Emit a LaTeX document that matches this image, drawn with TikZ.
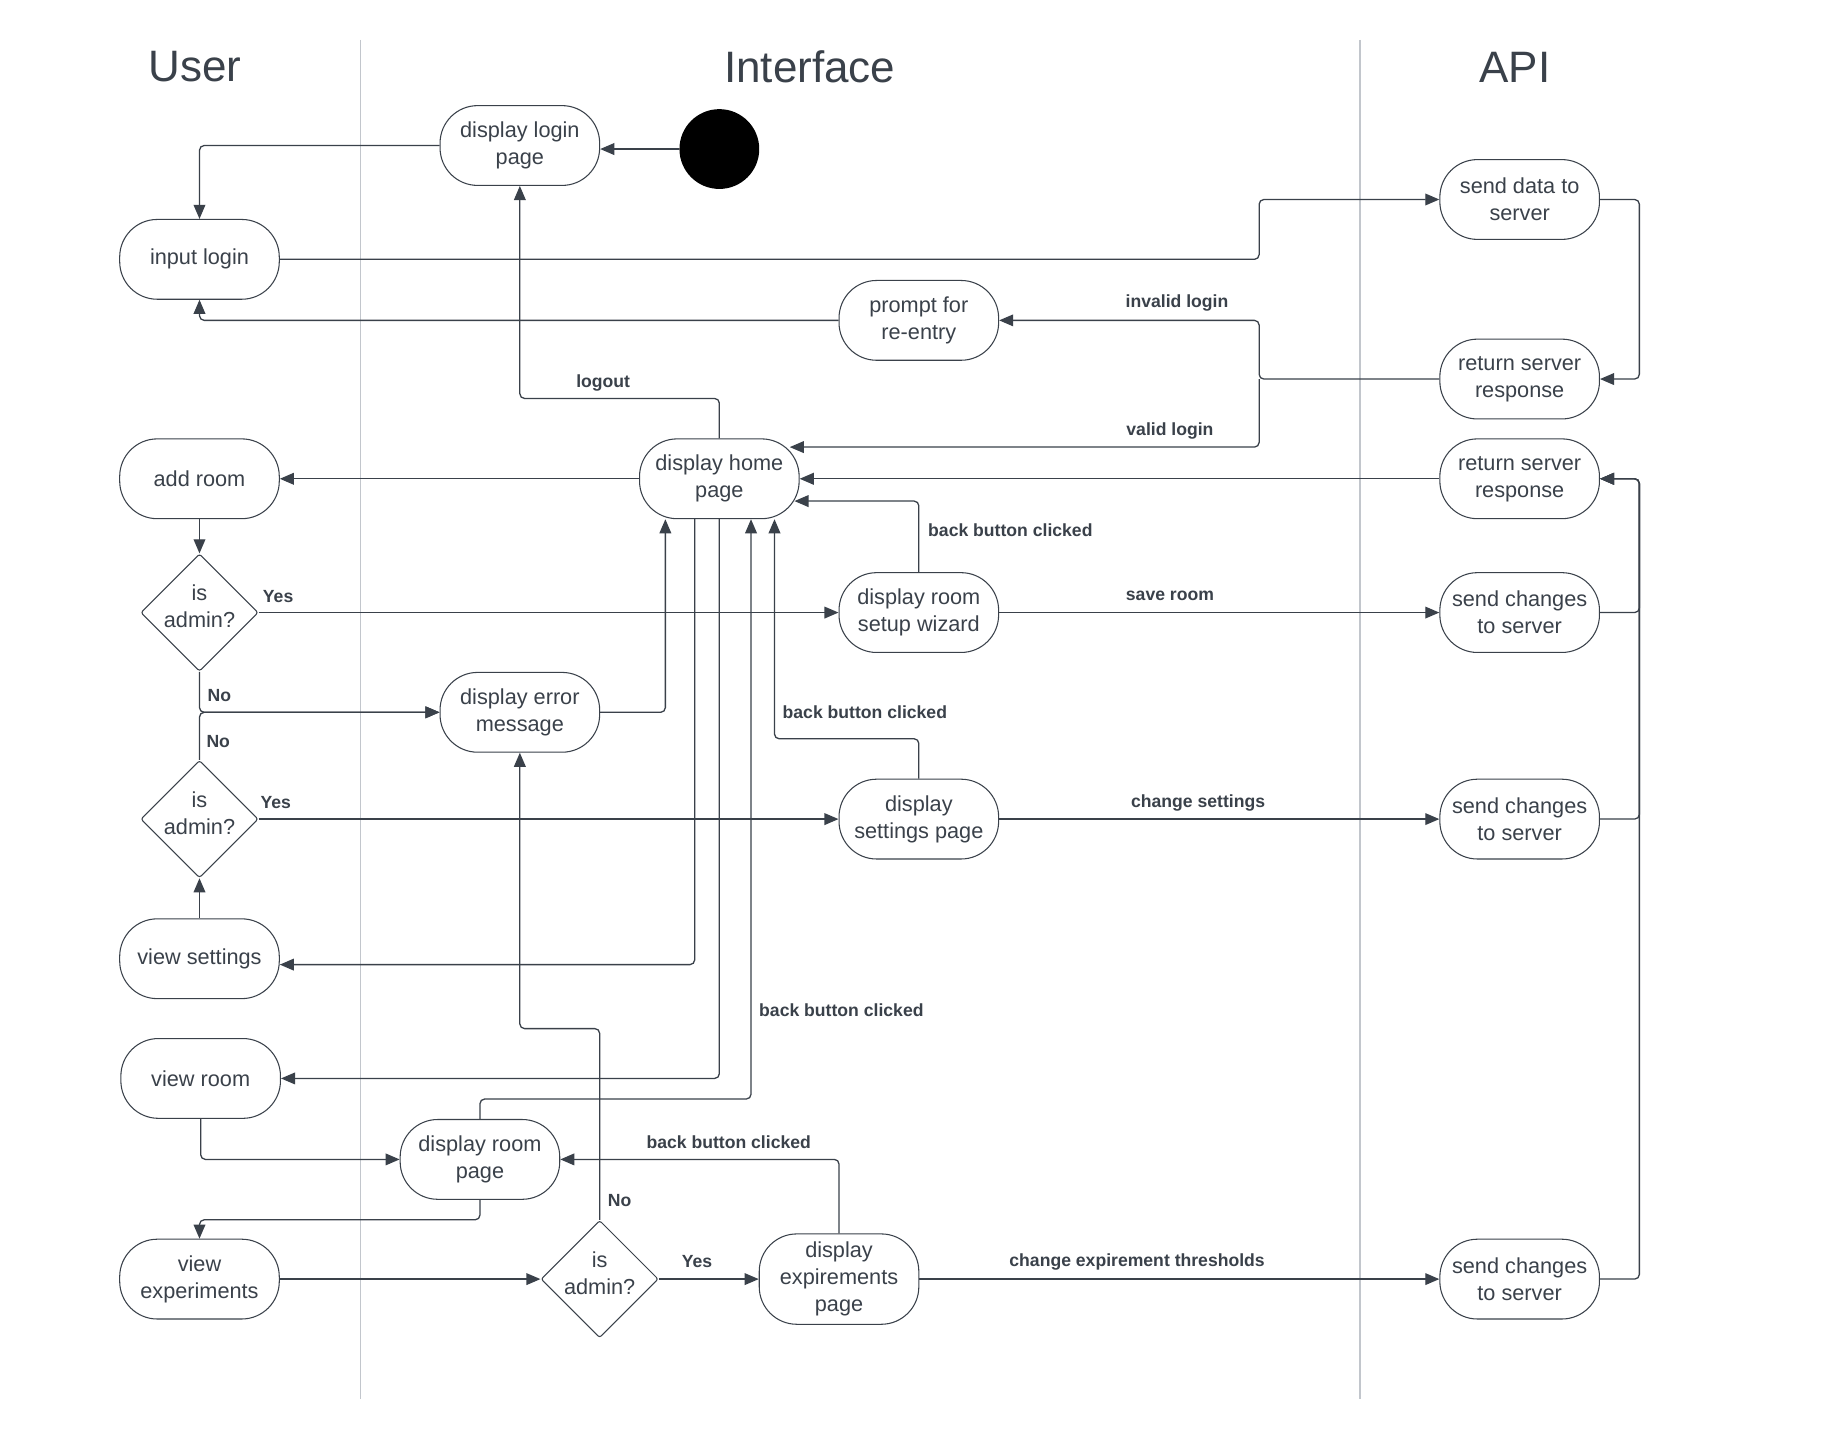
\documentclass[tikz,border=0pt]{standalone}
\usepackage{fontspec}
\setmainfont{Liberation Sans}
\usetikzlibrary{arrows.meta,shapes.geometric,calc}
\definecolor{ink}{HTML}{3A414A}
\definecolor{lanec}{HTML}{C2C6CC}
\begin{document}
\begin{tikzpicture}[x=1pt,y=-1pt,
  act/.style={draw=ink, line width=0.9pt, rounded corners=32pt, minimum width=136pt, minimum height=68pt, inner sep=0pt, align=center, font=\fontsize{18.5}{23}\selectfont, text=ink},
  dec/.style={draw=ink, line width=0.9pt, diamond, minimum width=100pt, minimum height=100pt, inner sep=0pt, rounded corners=2pt},
  dtxt/.style={align=center, font=\fontsize{18.5}{23}\selectfont, text=ink, yshift=5pt},
  arr/.style={draw=ink, line width=1.1pt, rounded corners=4pt, -{Triangle[length=12pt,width=10pt]}},
  lbl/.style={font=\fontsize{15}{18}\selectfont\bfseries, text=ink, inner sep=0pt},
  ttl/.style={font=\fontsize{37.5}{45}\selectfont, text=ink},
  lane/.style={draw=lanec, line width=1pt}]
\useasboundingbox (0,0) rectangle (1568,1227);
\fill[white] (0,0) rectangle (1568,1227);

% lanes
\coordinate (l1t) at (307,34); \coordinate (l1b) at (307,1192);
\coordinate (l2t) at (1159,34); \coordinate (l2b) at (1159,1192);
\draw[lane] (l1t) -- (l1b);
\draw[lane] (l2t) -- (l2b);
\node[ttl] (tuser) at (166,57) {User};
\node[ttl] (tint) at (690,57) {Interface};
\node[ttl] (tapi) at (1291,57) {API};

% helper bus coordinates
\coordinate (bx) at (1073,0);
\coordinate (rx) at (1397,0);

% nodes
\node[act] (login) at (443,124) {display login\\page};
\node[circle, fill=black, minimum size=68pt, inner sep=0pt] (start) at (613,127) {};
\node[act] (input) at (170,221) {input login};
\node[act] (send) at (1295,170) {send data to\\server};
\node[act] (prompt) at (783,273) {prompt for\\re-entry};
\node[act] (ret1) at (1295,323) {return server\\response};
\node[act] (add) at (170,408) {add room};
\node[act] (home) at (613,408) {display home\\page};
\node[act] (ret2) at (1295,408) {return server\\response};
\node[dec, label={[dtxt]center:is\\admin?}] (d1) at (170,522) {};
\node[act] (wiz) at (783,522) {display room\\setup wizard};
\node[act] (send1) at (1295,522) {send changes\\to server};
\node[act] (err) at (443,607) {display error\\message};
\node[dec, label={[dtxt]center:is\\admin?}] (d2) at (170,698) {};
\node[act] (set) at (783,698) {display\\settings page};
\node[act] (send2) at (1295,698) {send changes\\to server};
\node[act] (vset) at (170,817) {view settings};
\node[act] (vroom) at (171,919) {view room};
\node[act] (room) at (409,988) {display room\\page};
\node[act] (vexp) at (170,1090) {view\\experiments};
\node[dec, label={[dtxt]center:is\\admin?}] (d3) at (511,1090) {};
\node[act, minimum height=77pt] (exp) at (715,1090) {display\\expirements\\page};
\node[act] (send3) at (1295,1090) {send changes\\to server};

% connectors
\draw[arr] (start.west) -- (login.east |- start.west);
\draw[arr] (login.west) -| (input.north);
\draw[arr] (input.east) -- (input.east -| bx) |- (send.west);
\draw[arr] (send.east) -- (send.east -| rx) |- (ret1.east);
\draw[arr] (ret1.west) -- (ret1.west -| bx) |- (prompt.east);
\draw[arr] (ret1.west -| bx) |- ($(home.center)+(60,-27)$);
\draw[arr] (prompt.west) -| (input.south);
\draw[arr] (home.north) -- ++(0,-34) -| (login.south);
\draw[arr] (home.west) -- (add.east);
\draw[arr] (ret2.west) -- (home.east);
\draw[arr] (add.south) -- (d1.north);
\draw[arr] (d1.east) -- (wiz.west);
\draw[arr] (d1.south) |- (err.west);
\draw[arr] (d2.north) |- (err.west);
\draw[arr] (d2.east) -- (set.west);
\draw[arr] (vset.north) -- (d2.south);
\draw[arr] (wiz.north) |- ($(home.center)+(64,19)$);
\draw[arr] (wiz.east) -- (send1.west);
\draw[arr] (err.east) -| ($(home.south)+(-46,0)$);
\draw[arr] ($(home.south)+(-21,0)$) |- ($(vset.east)+(0,5)$);
\draw[arr] (home.south) |- (vroom.east);
\draw[arr] (room.north) -- ++(0,-17) -| ($(home.south)+(27,0)$);
\draw[arr] (set.north) -- ++(0,-34) -| ($(home.south)+(47,0)$);
\draw[arr] (set.east) -- (send2.west);
\draw[arr] (vroom.south) |- (room.west);
\draw[arr] (room.south) -- ++(0,17) -| (vexp.north);
\draw[arr] (vexp.east) -- (d3.west);
\draw[arr] (d3.north) -- ++(0,-163) -| (err.south);
\draw[arr] (d3.east) -- (exp.west);
\draw[arr] (exp.north) |- (room.east);
\draw[arr] (exp.east) -- (send3.west);
\draw[arr] (send1.east) -- (send1.east -| rx) |- (ret2.east);
\draw[arr] (send2.east) -- (send2.east -| rx) |- (ret2.east);
\draw[arr] (send3.east) -- (send3.east -| rx) |- (ret2.east);

% labels
\node[lbl] (linv) at (1003,258) {invalid login};
\node[lbl] (lval) at (997,367) {valid login};
\node[lbl] (llog) at (514,326) {logout};
\node[lbl] (lb1) at (861,452) {back button clicked};
\node[lbl] (lb2) at (737,607) {back button clicked};
\node[lbl] (lb3) at (717,861) {back button clicked};
\node[lbl] (lb4) at (621,973) {back button clicked};
\node[lbl] (lsave) at (997,508) {save room};
\node[lbl] (lchs) at (1021,684) {change settings};
\node[lbl] (lche) at (969,1075) {change expirement thresholds};
\node[lbl] (ly1) at (237,508) {Yes};
\node[lbl] (ly2) at (235,684) {Yes};
\node[lbl] (ly3) at (594,1075) {Yes};
\node[lbl] (ln1) at (187,593) {No};
\node[lbl] (ln2) at (186,632) {No};
\node[lbl] (ln3) at (528,1023) {No};
\end{tikzpicture}
\end{document}
